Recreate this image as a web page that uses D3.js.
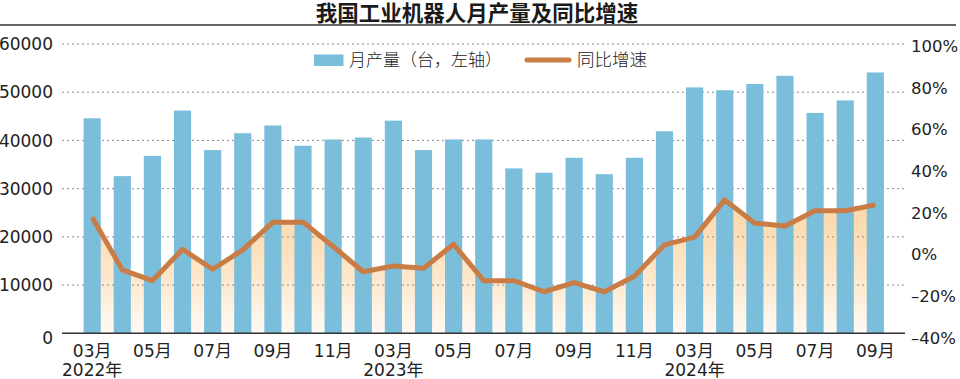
<!DOCTYPE html>
<html><head><meta charset="utf-8">
<script src="https://cdn.jsdelivr.net/npm/d3@7"></script>
<style>
html,body{margin:0;padding:0;background:#fff;}
svg{display:block;}
</style></head>
<body><svg id="chart" width="960" height="379"></svg>
<script>
const title = "我国工业机器人月产量及同比增速";
const categories = ["2022-03","2022-04","2022-05","2022-06","2022-07","2022-08","2022-09","2022-10","2022-11","2022-12",
  "2023-03","2023-04","2023-05","2023-06","2023-07","2023-08","2023-09","2023-10","2023-11","2023-12",
  "2024-03","2024-04","2024-05","2024-06","2024-07","2024-08","2024-09"];
const output = [44600,32600,36800,46200,38000,41500,43100,38900,40200,40600,
  44100,38000,40200,40200,34200,33300,36400,33000,36400,41900,
  51000,50400,51700,53400,45700,48300,54100];
const growth = [17.8,-7.5,-12.7,2.4,-7.2,2.1,15.4,15.4,3.7,-8.4,
  -5.6,-6.7,4.8,-12.7,-12.7,-18.0,-13.6,-18.0,-10.6,4.5,
  8.2,26.1,14.9,13.6,20.9,20.9,23.7];
const xTicks = ["2022-03","2022-05","2022-07","2022-09","2022-11","2023-03","2023-05","2023-07","2023-09","2023-11","2024-03","2024-05","2024-07","2024-09"];
const xTickLabels = ["03月","05月","07月","09月","11月","03月","05月","07月","09月","11月","03月","05月","07月","09月"];
const yearTicks = ["2022-03","2023-03","2024-03"];
const yearLabels = ["2022年","2023年","2024年"];
const leftTicks = [0,10000,20000,30000,40000,50000,60000];
const rightTicks = [-40,-20,0,20,40,60,80,100];
const legendLabels = ["月产量（台，左轴）","同比增速"];

const svg = d3.select("#chart");
const numFont = "'DejaVu Sans','Noto Sans CJK SC',sans-serif";
const cjkFont = "'Noto Sans CJK SC',sans-serif";
const barColor = "#7bbedc", lineColor = "#c97c45";

const x = d3.scaleBand().domain(categories).range([77.1, 890.4]).paddingInner(0.43).paddingOuter(0.215);
const yL = d3.scaleLinear().domain([0,60000]).range([333.3,44]);
const yR = d3.scaleLinear().domain([-40,100]).range([337.6,45.9]);
const cx = d => x(d) + x.bandwidth()/2;
const gridX0 = 62, gridX1 = 905;

// defs gradient
const defs = svg.append("defs");
const grad = defs.append("linearGradient").attr("id","areaGrad")
  .attr("gradientUnits","userSpaceOnUse").attr("x1",0).attr("x2",0).attr("y1",200).attr("y2",333);
grad.append("stop").attr("offset","0").attr("stop-color","#fbd6a6");
grad.append("stop").attr("offset","0.55").attr("stop-color","#fde6c8");
grad.append("stop").attr("offset","1").attr("stop-color","#fffaf4");

// title
svg.append("text").attr("x",477).attr("y",20.5).attr("text-anchor","middle")
  .attr("font-family",cjkFont).attr("font-weight",700).attr("font-size",21.5).attr("fill","#1a1a1a").text(title);
svg.append("line").attr("x1",0).attr("x2",956).attr("y1",25).attr("y2",25).attr("stroke","#333").attr("stroke-width",1.6);

// area under line
const idx = categories.map((c,i)=>i);
const area = d3.area().x(i=>cx(categories[i])).y0(yL(0)).y1(i=>yR(growth[i]));
svg.append("path").datum(idx).attr("d",area).attr("fill","url(#areaGrad)");

// gridlines
svg.append("g").selectAll("line").data(leftTicks.filter(v=>v>0)).join("line")
  .attr("x1",gridX0).attr("x2",gridX1).attr("y1",d=>yL(d)).attr("y2",d=>yL(d))
  .attr("stroke","#8a8a8a").attr("stroke-width",1).attr("stroke-dasharray","2,3");

// bars
svg.append("g").selectAll("rect").data(idx).join("rect")
  .attr("x",i=>x(categories[i])).attr("width",x.bandwidth())
  .attr("y",i=>yL(output[i])).attr("height",i=>yL(0)-yL(output[i]))
  .attr("fill",barColor);

// axis baseline
svg.append("line").attr("x1",gridX0).attr("x2",gridX1).attr("y1",yL(0)).attr("y2",yL(0))
  .attr("stroke","#333").attr("stroke-width",1.5);

// line
const line = d3.line().x(i=>cx(categories[i])).y(i=>yR(growth[i]));
svg.append("path").datum(idx).attr("d",line).attr("fill","none")
  .attr("stroke",lineColor).attr("stroke-width",5).attr("stroke-linejoin","round");

// left axis labels
svg.append("g").selectAll("text").data(leftTicks).join("text")
  .attr("x",53).attr("y",d=>yL(d)).attr("dy",d=>d===0?"0.6em":"0.36em").attr("text-anchor","end")
  .attr("font-family",numFont).attr("font-size",17).attr("fill","#222")
  .text(d=>d3.format("d")(d));

// right axis labels
svg.append("g").selectAll("text").data(rightTicks).join("text")
  .attr("x",911).attr("y",d=>yR(d)).attr("dy","0.36em").attr("text-anchor","start")
  .attr("font-family",numFont).attr("font-size",16.5).attr("fill","#222")
  .text(d=>(d<0?"–"+Math.abs(d):d)+"%");

// x labels
svg.append("g").selectAll("text").data(xTicks).join("text")
  .attr("x",d=>cx(d)).attr("y",357).attr("text-anchor","middle")
  .attr("font-family",numFont).attr("font-size",17).attr("fill","#222")
  .text((d,i)=>xTickLabels[i]);
svg.append("g").selectAll("text").data(yearTicks).join("text")
  .attr("x",d=>cx(d)).attr("y",376).attr("text-anchor","middle")
  .attr("font-family",numFont).attr("font-size",17).attr("fill","#222")
  .text((d,i)=>yearLabels[i]);

// legend
const lg = svg.append("g");
lg.append("rect").attr("x",314).attr("y",54.5).attr("width",29.5).attr("height",11.5).attr("fill",barColor);
lg.append("text").attr("x",349).attr("y",65.5).attr("font-family",cjkFont).attr("font-weight",300)
  .attr("font-size",17).attr("fill","#222").text(legendLabels[0]);
lg.append("line").attr("x1",527).attr("x2",569).attr("y1",60).attr("y2",60)
  .attr("stroke",lineColor).attr("stroke-width",5).attr("stroke-linecap","round");
lg.append("text").attr("x",577).attr("y",65.5).attr("font-family",cjkFont).attr("font-weight",300)
  .attr("font-size",17.5).attr("fill","#222").text(legendLabels[1]);
</script></body></html>
